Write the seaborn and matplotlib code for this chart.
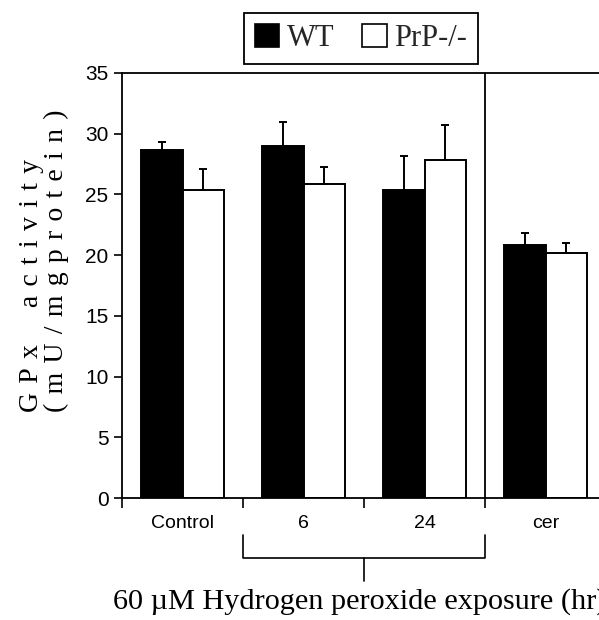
import matplotlib
matplotlib.use("Agg")
import matplotlib.pyplot as plt
import matplotlib.transforms as mtransforms
from matplotlib.patches import Patch
import numpy as np
import pandas as pd
import seaborn as sns

# ---- data ----
groups = ["Control", "6", "24", "cer"]
genotypes = ["WT", "PrP-/-"]
wt_mean = [28.65, 29.0, 25.35, 20.85]
prp_mean = [25.4, 25.9, 27.8, 20.2]
wt_err = [0.65, 2.0, 2.8, 1.0]
prp_err = [1.7, 1.35, 2.9, 0.8]
yticks = [0, 5, 10, 15, 20, 25, 30, 35]
bracket_groups = ["6", "24"]
xlabel_text = "60 \u00b5M Hydrogen peroxide exposure (hr)"
ylabel_line1 = "GPx activity"
ylabel_line2 = "(mU/mgprotein)"


def spaced(s):
    sp = "\u2004"
    return sp.join(ch if ch != " " else sp * 2 for ch in s)


ylabel_text = spaced(ylabel_line1) + "\n" + spaced(ylabel_line2)

df = pd.DataFrame({
    "group": groups * 2,
    "genotype": [genotypes[0]] * len(groups) + [genotypes[1]] * len(groups),
    "value": wt_mean + prp_mean,
})

sns.set_theme(style="white")
plt.rcParams["font.family"] = ["Liberation Sans", "DejaVu Sans"]

fig = plt.figure(figsize=(5.99, 6.20), dpi=100)
W, H = 599, 620
ax = fig.add_axes([122 / W, (H - 498) / H, 484 / W, 425 / H])

sns.barplot(data=df, x="group", y="value", hue="genotype", order=groups,
            hue_order=genotypes, palette=["black", "white"], saturation=1,
            edgecolor="black", linewidth=1.4, width=0.68, errorbar=None,
            legend=False, ax=ax)

# error bars (upper only) at the bar centres produced by seaborn
for cont, errs in zip(ax.containers, [wt_err, prp_err]):
    xs = [b.get_x() + b.get_width() / 2 for b in cont]
    ys = [b.get_height() for b in cont]
    ax.errorbar(xs, ys, yerr=[np.zeros(len(errs)), errs], fmt="none",
                ecolor="black", elinewidth=1.4, capsize=2.6, capthick=1.4,
                zorder=1)

ax.set_xlim(-0.5, len(groups) - 0.5)
ax.set_ylim(0, 35)
ax.set_yticks(yticks)
ax.set_xlabel("")
ax.set_ylabel("")

for s in ["left", "bottom", "top", "right"]:
    ax.spines[s].set_visible(True)
    ax.spines[s].set_color("black")
    ax.spines[s].set_linewidth(1.3)

# vertical divider between exposure groups and cer
ax.axvline(groups.index("24") + 0.5, color="black", lw=1.3)

ax.tick_params(axis="y", which="major", direction="out", length=5.8,
               width=1.2, pad=4, labelsize=15, color="black", left=True)
ax.tick_params(axis="x", which="major", length=0, pad=12, labelsize=14)
ax.set_xticks(np.arange(-0.5, len(groups), 1.0), minor=True)
ax.tick_params(axis="x", which="minor", direction="out", length=7.2,
               width=1.2, color="black", bottom=True)
for lab in ax.get_xticklabels() + ax.get_yticklabels():
    lab.set_color("black")

# bracket under the exposure groups
tr = mtransforms.blended_transform_factory(ax.transData, ax.transAxes)
x0 = groups.index(bracket_groups[0]) - 0.5
x1 = groups.index(bracket_groups[1]) + 0.5
xm = (x0 + x1) / 2
ax.plot([x0, x0, x1, x1], [-0.087, -0.141, -0.141, -0.087], color="black",
        lw=1.2, transform=tr, clip_on=False)
ax.plot([xm, xm], [-0.141, -0.195], color="black", lw=1.2, transform=tr,
        clip_on=False)
fig.text(113 / W, (H - 609) / H, xlabel_text, ha="left", va="baseline",
         fontsize=21.8, family=["Liberation Serif", "DejaVu Serif"], color="black")

# y label
fig.text(44 / W, (H - 412) / H, ylabel_text, rotation=90, ha="center",
         va="bottom", multialignment="left", fontsize=20, linespacing=1.0,
         family=["Liberation Serif", "DejaVu Serif"], color="black")

# legend
handles = [Patch(facecolor="black", edgecolor="black", lw=1.2),
           Patch(facecolor="white", edgecolor="black", lw=1.2)]
leg = fig.legend(handles, genotypes, loc="center",
                 bbox_to_anchor=(361 / W, 1 - 38.5 / H), ncol=2,
                 prop={"family": ["Liberation Serif", "DejaVu Serif"], "size": 22},
                 handlelength=0.8, handleheight=0.8, handletextpad=0.25,
                 columnspacing=0.9, borderpad=0.35, fancybox=False,
                 frameon=True, framealpha=1, edgecolor="black")
leg.get_frame().set_linewidth(1.3)

fig.savefig("out.png", dpi=100)
